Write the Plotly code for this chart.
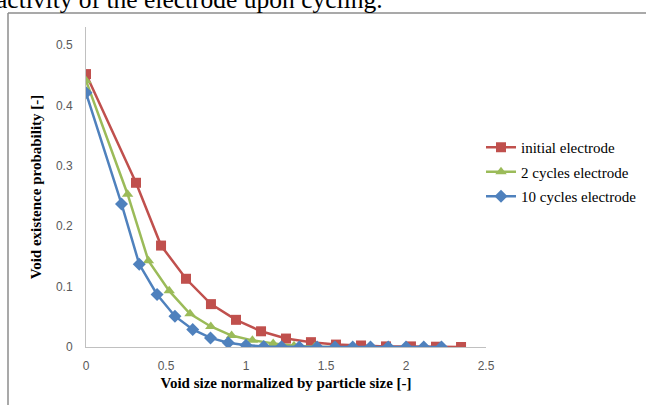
import plotly.graph_objects as go

# Data
series_names = ["initial electrode", "2 cycles electrode", "10 cycles electrode"]

initial_x = [0.0, 0.3125, 0.469, 0.625, 0.781, 0.9375, 1.094, 1.25, 1.406, 1.5625, 1.719, 1.875, 2.031, 2.1875, 2.344]
initial_y = [0.452, 0.272, 0.168, 0.113, 0.071, 0.045, 0.026, 0.014, 0.008, 0.004, 0.0025, 0.001, 0.001, 0.0005, 0.0]

cyc2_x = [0.0, 0.26, 0.39, 0.52, 0.65, 0.78, 0.91, 1.04, 1.17, 1.30, 1.43, 1.56]
cyc2_y = [0.441, 0.253, 0.143, 0.093, 0.055, 0.034, 0.019, 0.011, 0.006, 0.002, 0.0005, 0.0]

cyc10_x = [0.0, 0.222, 0.333, 0.444, 0.556, 0.667, 0.778, 0.889, 1.0, 1.111, 1.222, 1.333,
           1.444, 1.556, 1.667, 1.778, 1.889, 2.0, 2.111, 2.222]
cyc10_y = [0.421, 0.237, 0.137, 0.087, 0.051, 0.029, 0.015, 0.007, 0.003, 0.001, 0.0005, 0.0,
           0.0, 0.0, 0.0, 0.0, 0.0, 0.0, 0.0, 0.0]

x_ticks = [0, 0.5, 1, 1.5, 2, 2.5]
x_tick_labels = ["0", "0.5", "1", "1.5", "2", "2.5"]
y_ticks = [0, 0.1, 0.2, 0.3, 0.4, 0.5]
y_tick_labels = ["0", "0.1", "0.2", "0.3", "0.4", "0.5"]

colors = ["#C0504D", "#9BBB59", "#4F81BD"]
symbols = ["square", "triangle-up", "diamond"]
sizes = [10, 10, 10]

W, H = 646, 405
fig = go.Figure()
for i, (name, xs, ys, c, s, sz) in enumerate(zip(series_names,
                                 [initial_x, cyc2_x, cyc10_x],
                                 [initial_y, cyc2_y, cyc10_y],
                                 colors, symbols, sizes)):
    fig.add_trace(go.Scatter(x=xs, y=ys, name=name, mode="lines+markers", legendgroup=str(i),
                             line=dict(color=c, width=2.5),
                             marker=dict(color=c, symbol=s, size=sz)))

# chart frame (top and left borders)
fig.add_shape(type="line", xref="paper", yref="paper",
              x0=8 / W, x1=1.0, y0=1 - 13 / H, y1=1 - 13 / H,
              line=dict(color="#8c8c8c", width=1.5))
fig.add_shape(type="line", xref="paper", yref="paper",
              x0=8 / W, x1=8 / W, y0=0, y1=1 - 13 / H,
              line=dict(color="#8c8c8c", width=1.5))

# document text line cut off at top
fig.add_annotation(text="activity of the electrode upon cycling.", xref="paper", yref="paper",
                   x=385 / W, y=1 + 1 / H, xanchor="right", yanchor="middle", showarrow=False,
                   font=dict(family="Liberation Serif", size=25.5, color="black"))

fig.update_layout(
    width=W, height=H,
    margin=dict(l=0, r=0, t=0, b=0, autoexpand=False),
    paper_bgcolor="white", plot_bgcolor="white",
    showlegend=True,
    legend=dict(x=481 / W, y=1 - 131 / H, xanchor="left", yanchor="top",
                font=dict(family="Liberation Serif", size=15, color="black"),
                bgcolor="rgba(0,0,0,0)", itemwidth=30, traceorder="grouped", tracegroupgap=2),
    xaxis=dict(domain=[86 / W, 486 / W], range=[0, 2.5], tickvals=x_ticks, ticktext=x_tick_labels,
               showgrid=False, zeroline=False, showline=True, linecolor="#c0c0c0", linewidth=1,
               ticks="", tickfont=dict(family="Liberation Sans", size=12, color="#595959"),
               ticklabelstandoff=8, automargin=False,
               title=dict(text="<b>Void size normalized by particle size [-]</b>",
                          font=dict(family="Liberation Serif", size=15, color="black"), standoff=5)),
    yaxis=dict(domain=[1 - 347 / H, 1 - 27 / H], range=[0, 0.53], tickvals=y_ticks, ticktext=y_tick_labels,
               showgrid=False, zeroline=False, showline=True, linecolor="#c0c0c0", linewidth=1,
               ticks="", tickfont=dict(family="Liberation Sans", size=12, color="#595959"),
               ticklabelstandoff=10, automargin=False,
               title=dict(text="<b>Void existence probability [-]</b>",
                          font=dict(family="Liberation Serif", size=15, color="black"), standoff=10)),
)

fig.write_html("out.html", config={"displayModeBar": False},
               post_script="document.body.style.margin='0';")
